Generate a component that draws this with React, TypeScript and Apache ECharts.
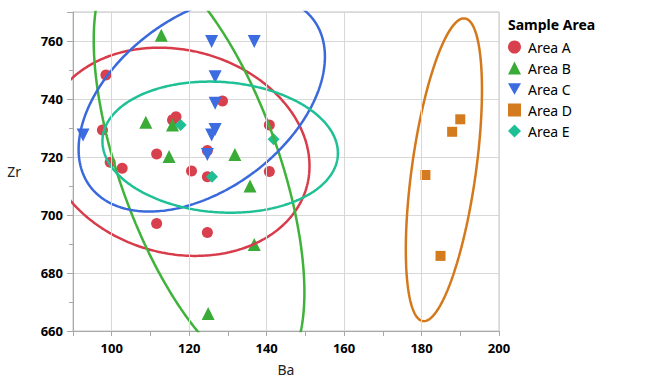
import React, { useEffect, useRef } from "react";
import * as echarts from "echarts";

// ---------- data ----------
const areaNames = ["Area A", "Area B", "Area C", "Area D", "Area E"];
const areaColors = ["#d9404e", "#3aab36", "#3d6ce0", "#d47a1f", "#1fbf95"];
const ellipseColors = ["#d83c4b", "#3fb23a", "#3a69dc", "#d4781c", "#20c096"];
const areaSymbols = ["circle", "triangle", "path://M0,0 L10,0 L5,9 Z", "rect", "diamond"];
const areaSymbolSizes = [11, 13, 13, 10, 12];

const areaA_Ba = [98.5, 97.6, 99.6, 102.7, 111.6, 116.6, 115.7, 120.6, 124.7, 124.7, 128.6, 140.7, 140.7, 111.6, 124.7];
const areaA_Zr = [748.3, 729.3, 718.2, 716.1, 721.0, 733.9, 732.8, 715.2, 722.2, 713.2, 739.3, 731.0, 715.0, 697.1, 694.0];

const areaB_Ba = [112.8, 108.8, 115.7, 114.8, 131.8, 135.7, 136.8, 124.9];
const areaB_Zr = [762.0, 732.0, 731.0, 720.2, 720.9, 710.0, 689.8, 666.0];

const areaC_Ba = [92.6, 125.8, 136.8, 126.7, 126.7, 126.7, 125.8, 124.7];
const areaC_Zr = [727.6, 759.8, 759.8, 747.7, 738.5, 729.5, 727.6, 720.9];

const areaD_Ba = [190.0, 187.9, 181.0, 184.9];
const areaD_Zr = [733.0, 728.7, 713.8, 685.9];

const areaE_Ba = [117.8, 125.9, 141.8];
const areaE_Zr = [731.0, 713.2, 726.1];

// density ellipses: centre, x / y half-ranges and correlation (data units)
const ellipseCx = [116.97, 122.55, 123.25, 185.77, 128.0];
const ellipseCy = [721.8, 716.8, 738.6, 715.6, 723.4];
const ellipseRx = [34.1, 27.2, 31.8, 9.83, 30.4];
const ellipseRy = [35.9, 72.1, 37.4, 52.2, 22.6];
const ellipseRho = [-0.137, -0.603, 0.427, 0.527, -0.09];

// axes
const xMin = 90;
const xMax = 200;
const xTickStep = 10;
const xLabelTicks = [100, 120, 140, 160, 180, 200];
const yMin = 660;
const yMax = 770;
const yInterval = 20;

const allBa = [areaA_Ba, areaB_Ba, areaC_Ba, areaD_Ba, areaE_Ba];
const allZr = [areaA_Zr, areaB_Zr, areaC_Zr, areaD_Zr, areaE_Zr];

function ellipsePoints(i: number): number[][] {
  const pts: number[][] = [];
  const n = 360;
  const s = Math.sqrt(1 - ellipseRho[i] * ellipseRho[i]);
  for (let k = 0; k <= n; k++) {
    const t = (2 * Math.PI * k) / n;
    const x = ellipseCx[i] + ellipseRx[i] * Math.cos(t);
    const y = ellipseCy[i] + ellipseRy[i] * (ellipseRho[i] * Math.cos(t) + s * Math.sin(t));
    pts.push([x, y]);
  }
  return pts;
}

const FONT = "'Noto Sans', 'Open Sans', sans-serif";
const AXIS_GRAY = "#a8a8a8";
const GRID_GRAY = "#d8d8d8";

export default function App() {
  const ref = useRef<HTMLDivElement>(null);
  useEffect(() => {
    if (!ref.current) return;
    const chart = echarts.init(ref.current, null, { renderer: "svg" });

    const gridSeries = {
      name: "__vgrid",
      type: "scatter",
      data: [],
      silent: true,
      z: 1,
      markLine: {
        silent: true,
        symbol: ["none", "none"],
        label: { show: false },
        lineStyle: { color: GRID_GRAY, type: "solid", width: 1 },
        emphasis: { disabled: true },
        data: xLabelTicks.map((v) => ({ xAxis: v })),
        animation: false,
      },
    };

    const scatterSeries = areaNames.map((name, i) => ({
      name,
      type: "scatter",
      symbol: areaSymbols[i],
      symbolSize: areaSymbolSizes[i],
      itemStyle: { color: areaColors[i], opacity: 1 },
      data: allBa[i].map((b, j) => [b, allZr[i][j]]),
      z: 3,
    }));

    const ellipseSeries = areaNames.map((name, i) => ({
      name: name + " ellipse",
      type: "line",
      showSymbol: false,
      symbol: "none",
      clip: true,
      smooth: false,
      lineStyle: { color: ellipseColors[i], width: 2.5 },
      data: ellipsePoints(i),
      z: 4,
      silent: true,
    }));

    chart.setOption({
      animation: false,
      backgroundColor: "#ffffff",
      title: {
        text: "Sample Area",
        left: 503,
        top: 12,
        textStyle: { fontFamily: FONT, fontWeight: "bold", fontSize: 14, color: "#000" },
      },
      legend: {
        orient: "vertical",
        left: 503,
        top: 35,
        itemWidth: 13,
        itemHeight: 13,
        itemGap: 7,
        data: areaNames.map((n, i) => ({ name: n, icon: areaSymbols[i] })),
        textStyle: { fontFamily: FONT, fontSize: 14, color: "#000", padding: [0, 0, 0, 2] },
      },
      grid: {
        left: 73,
        right: 154,
        top: 12,
        bottom: 61,
        show: true,
        borderColor: "#c4c4c4",
        borderWidth: 1,
      },
      xAxis: {
        type: "value",
        min: xMin,
        max: xMax,
        interval: xTickStep,
        name: "Ba",
        nameLocation: "middle",
        nameGap: 31,
        nameTextStyle: { fontFamily: FONT, fontSize: 14, color: "#222" },
        axisLine: { show: true, lineStyle: { color: AXIS_GRAY } },
        axisTick: { show: true, length: 5, lineStyle: { color: AXIS_GRAY } },
        splitLine: { show: false },
        axisLabel: {
          margin: 10,
          fontFamily: FONT,
          fontWeight: "bold",
          fontSize: 13,
          color: "#000",
          formatter: (v: number) => (xLabelTicks.indexOf(v) >= 0 ? String(v) : ""),
        },
      },
      yAxis: {
        type: "value",
        min: yMin,
        max: yMax,
        interval: yInterval,
        name: "Zr",
        nameLocation: "middle",
        nameRotate: 0,
        nameGap: 52,
        nameTextStyle: { fontFamily: FONT, fontSize: 14, color: "#222" },
        axisLine: { show: true, lineStyle: { color: AXIS_GRAY } },
        axisTick: { show: true, length: 6, lineStyle: { color: AXIS_GRAY } },
        minorTick: { show: true, splitNumber: 2, length: 4, lineStyle: { color: AXIS_GRAY } },
        splitLine: { show: true, lineStyle: { color: GRID_GRAY } },
        axisLabel: {
          showMaxLabel: false,
          margin: 10,
          fontFamily: FONT,
          fontWeight: "bold",
          fontSize: 13,
          color: "#000",
        },
      },
      series: [gridSeries, ...scatterSeries, ...ellipseSeries],
    });

    return () => chart.dispose();
  }, []);

  return <div ref={ref} style={{ width: 653, height: 392, position: "absolute", left: 0, top: 0 }} />;
}
